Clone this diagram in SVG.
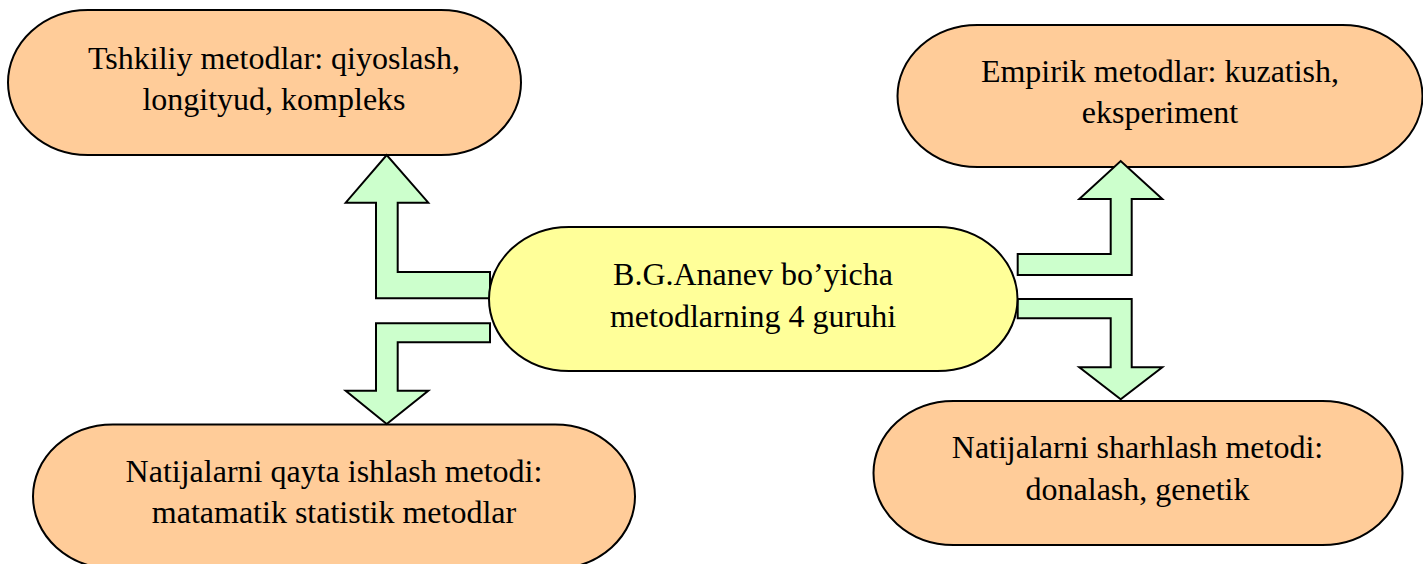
<svg xmlns="http://www.w3.org/2000/svg" width="1423" height="564" viewBox="0 0 1423 564">
<style>
.node{fill:#FFCC99;stroke:#000;stroke-width:2}
.center{fill:#FFFF99;stroke:#000;stroke-width:2}
.arrow{fill:#CCFFCC;stroke:#000;stroke-width:2;stroke-linejoin:miter}
text{font-family:"Liberation Serif","Times New Roman",serif;font-size:32px;fill:#000;text-anchor:middle}
</style>
<rect width="1423" height="564" fill="#fff"/>
<g id="node-tl">
<rect class="node" x="8" y="10" width="513" height="145" rx="80" ry="72.5"/>
<text x="274" y="68.5">Tshkiliy metodlar: qiyoslash,</text>
<text x="274" y="110">longityud, kompleks</text>
</g>
<g id="node-tr">
<rect class="node" x="897.5" y="25" width="525" height="142" rx="80" ry="71"/>
<text x="1160" y="82">Empirik metodlar: kuzatish,</text>
<text x="1160" y="123">eksperiment</text>
</g>
<g id="node-bl">
<rect class="node" x="33" y="424.5" width="602" height="144" rx="80" ry="72"/>
<text x="334" y="482">Natijalarni qayta ishlash metodi:</text>
<text x="334" y="523">matamatik statistik metodlar</text>
</g>
<g id="node-br">
<rect class="node" x="873.5" y="401" width="529" height="144" rx="80" ry="72"/>
<text x="1137.5" y="458">Natijalarni sharhlash metodi:</text>
<text x="1137.5" y="500">donalash, genetik</text>
</g>
<g id="connectors">
<polygon class="arrow" points="490,272 397.7,272 397.7,202.7 428.3,202.7 386.7,155 345.7,202.7 376,202.7 376,298.3 490,298.3"/>
<polygon class="arrow" points="490,323.3 376,323.3 376,390.7 345.7,390.7 386.7,424 428.3,390.7 397.7,390.7 397.7,342.3 490,342.3"/>
<polygon class="arrow" points="1017.7,275 1131.7,275 1131.7,199 1162.3,199 1120.7,161 1079.3,199 1110.7,199 1110.7,254 1017.7,254"/>
<polygon class="arrow" points="1017.7,299 1131.7,299 1131.7,367.3 1162.3,367.3 1120.7,399.3 1079.3,367.3 1110.7,367.3 1110.7,318.3 1017.7,318.3"/>
</g>
<g id="node-center">
<rect class="center" x="489" y="227" width="528.5" height="144" rx="80" ry="72"/>
<text x="753" y="285">B.G.Ananev bo’yicha</text>
<text x="753" y="327">metodlarning 4 guruhi</text>
</g>
</svg>
